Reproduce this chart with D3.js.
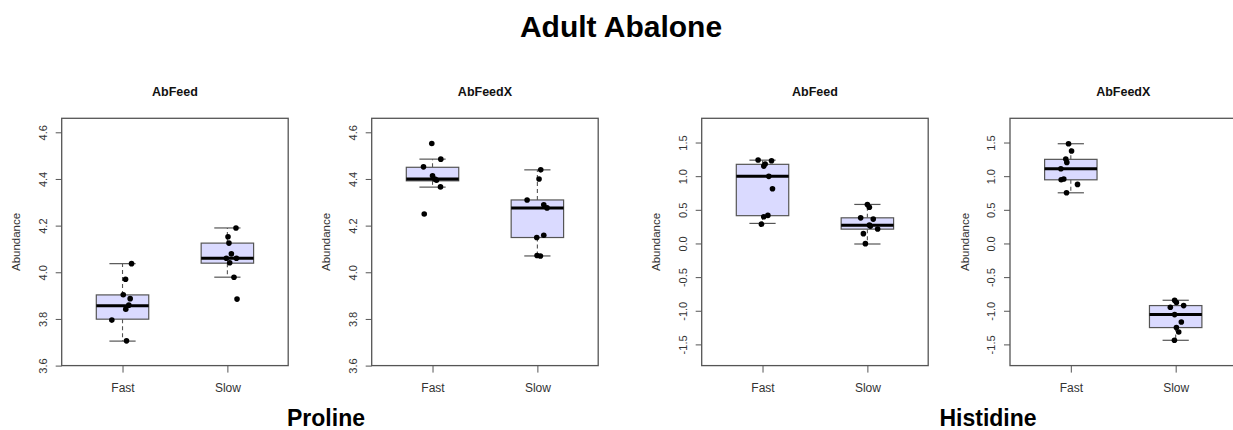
<!DOCTYPE html>
<html>
<head>
<meta charset="utf-8">
<script src="https://cdn.jsdelivr.net/npm/d3@7"></script>
<style>
  html, body { margin: 0; padding: 0; background: #fff; }
  svg { display: block; font-family: "Liberation Sans", Arial, Helvetica, sans-serif; }
</style>
</head>
<body>
<svg id="chart" width="1233" height="430"></svg>
<script>
// ---- data -------------------------------------------------------------
const mainTitle = "Adult Abalone";
const groups = ["Fast", "Slow"];
const feeds = ["AbFeed", "AbFeedX"];
const aminoAcids = ["Proline", "Histidine"];

const prolineTicks = [3.6, 3.8, 4.0, 4.2, 4.4, 4.6];
const histidineTicks = [-1.5, -1.0, -0.5, 0.0, 0.5, 1.0, 1.5];

// box statistics: [lower whisker, lower hinge, median, upper hinge, upper whisker]
const prolineAbFeedFastBox  = [3.705, 3.799, 3.856, 3.903, 4.037];
const prolineAbFeedSlowBox  = [3.979, 4.039, 4.060, 4.125, 4.190];
const prolineAbFeedXFastBox = [4.365, 4.392, 4.400, 4.450, 4.485];
const prolineAbFeedXSlowBox = [4.070, 4.149, 4.275, 4.310, 4.439];
const histidineAbFeedFastBox  = [0.298, 0.413, 0.999, 1.176, 1.238];
const histidineAbFeedSlowBox  = [-0.008, 0.213, 0.272, 0.381, 0.580];
const histidineAbFeedXFastBox = [0.753, 0.946, 1.110, 1.250, 1.482];
const histidineAbFeedXSlowBox = [-1.439, -1.250, -1.057, -0.923, -0.844];

// individual abundances per sample
const prolineAbFeedFast  = [4.037, 3.970, 3.904, 3.887, 3.859, 3.842, 3.795, 3.706];
const prolineAbFeedSlow  = [4.190, 4.152, 4.125, 4.079, 4.060, 4.060, 4.041, 3.979, 3.885];
const prolineAbFeedXFast = [4.552, 4.485, 4.452, 4.414, 4.400, 4.395, 4.366, 4.250];
const prolineAbFeedXSlow = [4.439, 4.400, 4.310, 4.289, 4.276, 4.159, 4.149, 4.072, 4.070];
const histidineAbFeedFast  = [1.240, 1.229, 1.180, 1.150, 0.997, 0.813, 0.417, 0.396, 0.287];
const histidineAbFeedSlow  = [0.578, 0.538, 0.381, 0.362, 0.272, 0.258, 0.216, 0.146, -0.003];
const histidineAbFeedXFast = [1.482, 1.373, 1.254, 1.205, 1.110, 0.957, 0.946, 0.878, 0.753];
const histidineAbFeedXSlow = [-0.844, -0.878, -0.923, -0.948, -1.057, -1.167, -1.250, -1.315, -1.439];

// horizontal jitter of each sample, in category units
const prolineAbFeedFastJitter  = [0.086, 0.029, 0.007, 0.073, 0.060, 0.031, -0.102, 0.038];
const prolineAbFeedSlowJitter  = [0.082, 0.006, 0.015, 0.038, -0.010, 0.086, 0.022, 0.063, 0.092];
const prolineAbFeedXFastJitter = [-0.007, 0.079, -0.086, 0.000, 0.022, 0.038, 0.076, -0.079];
const prolineAbFeedXSlowJitter = [0.032, 0.016, -0.098, 0.061, 0.092, 0.061, -0.006, -0.003, 0.029];
const histidineAbFeedFastJitter  = [-0.042, 0.086, 0.025, 0.012, 0.060, 0.095, 0.051, 0.012, -0.010];
const histidineAbFeedSlowJitter  = [0.000, 0.019, -0.064, 0.056, 0.019, 0.029, 0.098, -0.038, -0.019];
const histidineAbFeedXFastJitter = [-0.022, 0.007, -0.048, -0.038, -0.095, -0.067, -0.092, 0.064, -0.041];
const histidineAbFeedXSlowJitter = [-0.010, 0.007, 0.076, -0.051, -0.010, 0.054, 0.007, 0.029, -0.012];

// ---- panel assembly ---------------------------------------------------
const panels = [
  { title: feeds[0], domain: [3.6, 4.66], ticks: prolineTicks,
    boxes: [prolineAbFeedFastBox, prolineAbFeedSlowBox],
    pts: [prolineAbFeedFast, prolineAbFeedSlow],
    jit: [prolineAbFeedFastJitter, prolineAbFeedSlowJitter] },
  { title: feeds[1], domain: [3.6, 4.66], ticks: prolineTicks,
    boxes: [prolineAbFeedXFastBox, prolineAbFeedXSlowBox],
    pts: [prolineAbFeedXFast, prolineAbFeedXSlow],
    jit: [prolineAbFeedXFastJitter, prolineAbFeedXSlowJitter] },
  { title: feeds[0], domain: [-1.815, 1.86], ticks: histidineTicks,
    boxes: [histidineAbFeedFastBox, histidineAbFeedSlowBox],
    pts: [histidineAbFeedFast, histidineAbFeedSlow],
    jit: [histidineAbFeedFastJitter, histidineAbFeedSlowJitter] },
  { title: feeds[1], domain: [-1.815, 1.86], ticks: histidineTicks,
    boxes: [histidineAbFeedXFastBox, histidineAbFeedXSlowBox],
    pts: [histidineAbFeedXFast, histidineAbFeedXSlow],
    jit: [histidineAbFeedXFastJitter, histidineAbFeedXSlowJitter] }
];

const panelLefts = [61.7, 371.7, 701.7, 1010];
const panelW = 226.5;
const plotTop = 118.3, plotBottom = 365.6;

const svg = d3.select("#chart");
svg.append("rect").attr("width", 1233).attr("height", 430).attr("fill", "#fff");

svg.append("text")
  .attr("x", 621).attr("y", 37)
  .attr("text-anchor", "middle")
  .attr("font-size", 30).attr("font-weight", "bold")
  .attr("fill", "#000")
  .text(mainTitle);

const boxFill = "#dadaff";
const grey = "#555";

panels.forEach((p, i) => {
  const g = svg.append("g").attr("transform", `translate(${panelLefts[i]},0)`);
  const x = d3.scaleLinear().domain([0.42, 2.58]).range([0, panelW]);
  const y = d3.scaleLinear().domain(p.domain).range([plotBottom, plotTop]);
  const halfBox = (x(1.25) - x(1)); // box half-width (boxwex 0.5)
  const halfCap = halfBox / 2;

  // panel title
  g.append("text")
    .attr("x", panelW / 2).attr("y", 96)
    .attr("text-anchor", "middle")
    .attr("font-size", 12.5).attr("font-weight", "bold")
    .attr("fill", "#111")
    .text(p.title);

  // y axis
  const yAxis = g.append("g").call(
    d3.axisLeft(y).tickValues(p.ticks).tickSize(6).tickSizeOuter(0)
      .tickFormat(d => d.toFixed(1))
  );
  yAxis.select(".domain").remove();
  yAxis.selectAll(".tick line").attr("stroke", grey).attr("stroke-width", 1);
  yAxis.selectAll(".tick text")
    .attr("x", null).attr("dy", "0.35em")
    .attr("transform", "translate(-18.4,0) rotate(-90)")
    .attr("text-anchor", "middle")
    .attr("font-size", 11)
    .attr("font-family", "\"Liberation Sans\", Arial, sans-serif")
    .attr("fill", "#333");

  // x axis
  const xAxis = g.append("g").attr("transform", `translate(0,${plotBottom})`).call(
    d3.axisBottom(x).tickValues([1, 2]).tickSize(7).tickSizeOuter(0)
      .tickFormat(d => groups[d - 1])
  );
  xAxis.select(".domain").remove();
  xAxis.selectAll(".tick line").attr("stroke", grey).attr("stroke-width", 1);
  xAxis.selectAll(".tick text")
    .attr("y", 22.5).attr("dy", "0.35em")
    .attr("font-size", 12)
    .attr("font-family", "\"Liberation Sans\", Arial, sans-serif")
    .attr("fill", "#333");

  // y label
  g.append("text")
    .attr("transform", `translate(-45.5,${(plotTop + plotBottom) / 2}) rotate(-90)`)
    .attr("dy", "0.35em")
    .attr("text-anchor", "middle")
    .attr("font-size", 11.5)
    .attr("fill", "#333")
    .text("Abundance");

  // boxes
  p.boxes.forEach((b, k) => {
    const cx = x(k + 1);
    const [lo, q1, med, q3, hi] = b;
    // dashed whiskers
    g.append("line").attr("x1", cx).attr("x2", cx)
      .attr("y1", y(q3)).attr("y2", y(hi))
      .attr("stroke", grey).attr("stroke-dasharray", "4,3").attr("stroke-width", 1.1);
    g.append("line").attr("x1", cx).attr("x2", cx)
      .attr("y1", y(q1)).attr("y2", y(lo))
      .attr("stroke", grey).attr("stroke-dasharray", "4,3").attr("stroke-width", 1.1);
    // caps
    [lo, hi].forEach(v => {
      g.append("line").attr("x1", cx - halfCap).attr("x2", cx + halfCap)
        .attr("y1", y(v)).attr("y2", y(v))
        .attr("stroke", grey).attr("stroke-width", 1.2);
    });
    // box body
    g.append("rect")
      .attr("x", cx - halfBox).attr("width", 2 * halfBox)
      .attr("y", y(q3)).attr("height", y(q1) - y(q3))
      .attr("fill", boxFill).attr("stroke", grey).attr("stroke-width", 1.2);
    // median
    g.append("line").attr("x1", cx - halfBox).attr("x2", cx + halfBox)
      .attr("y1", y(med)).attr("y2", y(med))
      .attr("stroke", "#000").attr("stroke-width", 3);
  });

  // sample points
  p.pts.forEach((vals, k) => {
    g.selectAll(null).data(vals.map((v, j) => ({ v, j: p.jit[k][j] })))
      .enter().append("circle")
      .attr("cx", d => x(k + 1 + d.j))
      .attr("cy", d => y(d.v))
      .attr("r", 2.8)
      .attr("fill", "#000");
  });

  // plot frame
  g.append("rect")
    .attr("x", 0).attr("y", plotTop)
    .attr("width", panelW).attr("height", plotBottom - plotTop)
    .attr("fill", "none").attr("stroke", grey).attr("stroke-width", 1.3);
});

// amino acid labels below each pair of panels
const aaCenters = [326, 988];
aminoAcids.forEach((aa, i) => {
  svg.append("text")
    .attr("x", aaCenters[i]).attr("y", 426)
    .attr("text-anchor", "middle")
    .attr("font-size", 23).attr("font-weight", "bold")
    .attr("fill", "#000")
    .text(aa);
});
</script>
</body>
</html>
